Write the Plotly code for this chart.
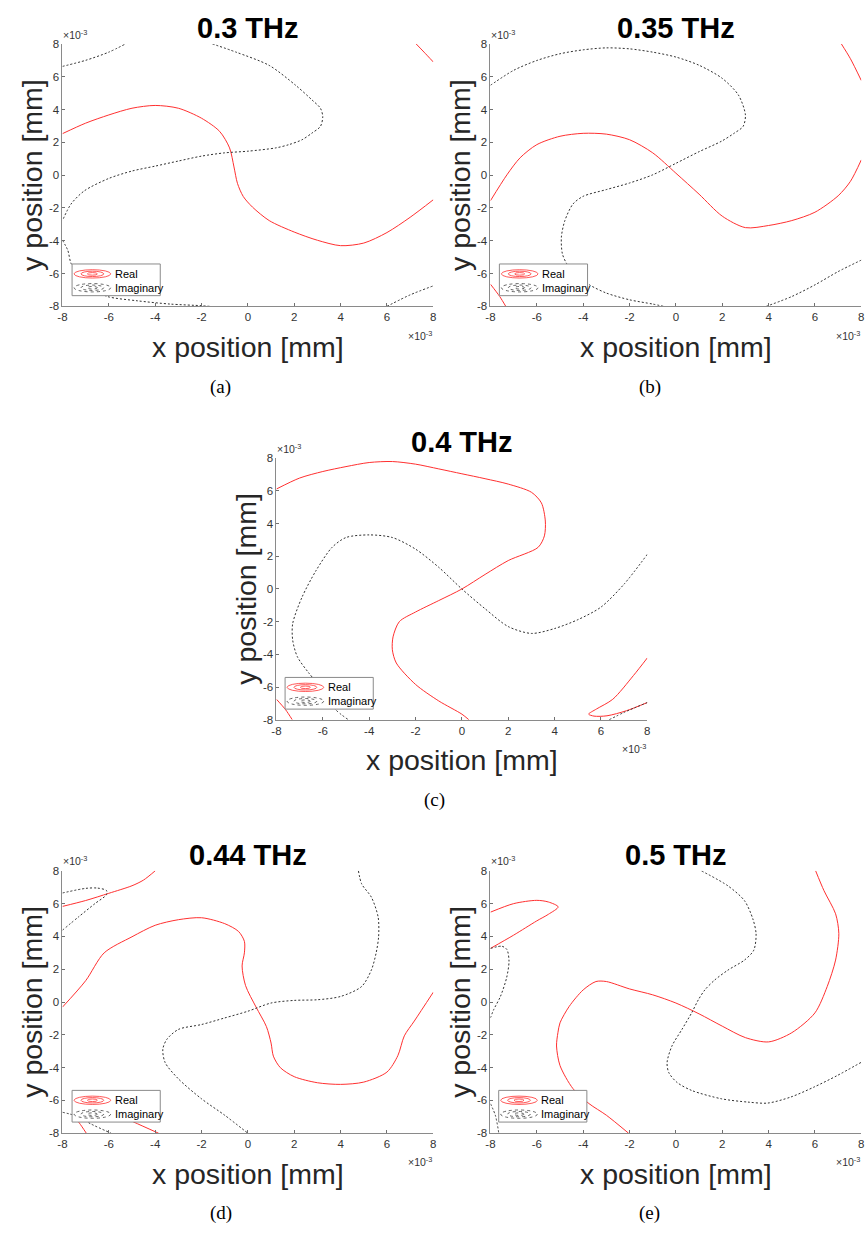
import plotly.graph_objects as go

W, H = 865, 1237

# ---------------- data (units: 1e-3 m) ----------------
tick_vals = [-8, -6, -4, -2, 0, 2, 4, 6, 8]
panel_titles = ["0.3 THz", "0.35 THz", "0.4 THz", "0.44 THz", "0.5 THz"]
panel_captions = ["(a)", "(b)", "(c)", "(d)", "(e)"]

# (a) 0.3 THz
a_real1_x = [-8, -7, -6, -5, -4, -3, -2, -1.22, -0.79, -0.6, -0.45, -0.2, 0.2, 0.92, 2, 3, 4, 5, 6, 7, 8]
a_real1_y = [2.53, 3.17, 3.67, 4.08, 4.25, 4.08, 3.47, 2.67, 1.66, 0.5, -0.5, -1.3, -1.95, -2.77, -3.47, -3.97, -4.3, -4.14, -3.5, -2.57, -1.5]
a_real2_x = [7.26, 7.6, 8]
a_real2_y = [8, 7.5, 6.9]
a_imag1_x = [-8, -7, -6, -5.28]
a_imag1_y = [6.63, 7.0, 7.5, 8]
a_imag2_x = [-1.53, -0.51, 0.92, 2.06, 2.77, 3.13, 3.23, 3.13, 2.77, 2.34, 1.77, 1.2, 0, -1, -2, -3, -4, -5, -6, -7.06, -7.63, -8]
a_imag2_y = [8, 7.5, 6.69, 5.48, 4.58, 4.08, 3.57, 2.97, 2.57, 2.16, 1.86, 1.66, 1.46, 1.36, 1.16, 0.86, 0.55, 0.25, -0.2, -0.96, -1.76, -2.77]
a_imag3_x = [-8, -7.77, -7.63, -7.2, -6.6, -6.06, -4.78, -3.36, -2, -1.65]
a_imag3_y = [-3.97, -4.58, -5.38, -6.3, -7.0, -7.4, -7.66, -7.86, -7.96, -8]
a_imag4_x = [6.0, 7.0, 8]
a_imag4_y = [-8, -7.3, -6.75]

# (b) 0.35 THz
b_real1_x = [-8, -7.29, -6.72, -6, -5, -4, -3, -2, -1, 0, 1, 2, 3, 4, 5, 6, 7, 7.53, 8]
b_real1_y = [-1.56, 0.02, 1.06, 1.86, 2.37, 2.55, 2.5, 2.16, 1.36, 0.12, -1.16, -2.5, -3.2, -3.07, -2.77, -2.26, -1.26, -0.38, 0.93]
b_real2_x = [7.14, 7.53, 8]
b_real2_y = [8, 7.1, 5.77]
b_real3_x = [-8, -7.6, -7.34]
b_real3_y = [-6.65, -7.4, -8]
b_imag1_x = [-8, -7, -6, -5, -4, -3, -2, -1, 0, 1, 2, 2.7, 3.0, 2.9, 2.53, 1.97, 1, 0, -1, -2, -3, -4, -4.44, -4.79, -4.94, -4.9, -4.72, -4.4, -3.73, -3, -2, -1, -0.53]
b_imag1_y = [5.48, 6.39, 6.99, 7.4, 7.64, 7.76, 7.7, 7.5, 7.2, 6.7, 5.9, 4.88, 3.67, 2.97, 2.57, 2.07, 1.43, 0.72, 0.02, -0.48, -0.88, -1.29, -1.76, -2.77, -3.77, -4.78, -5.38, -6.0, -6.69, -7.19, -7.6, -7.86, -8]
b_imag2_x = [3.9, 5, 6, 7, 8]
b_imag2_y = [-8, -7.4, -6.69, -5.88, -5.18]

# (c) 0.4 THz
c_real1_x = [-8, -7, -6, -5, -4, -3, -2, -1, 0, 1, 2, 3, 3.43, 3.6, 3.56, 3.29, 2, 1, 0, -1, -2, -2.7, -2.97, -3.0, -2.83, -2, -1, 0, 0.3]
c_real1_y = [6.12, 6.79, 7.19, 7.49, 7.74, 7.8, 7.64, 7.35, 7.05, 6.75, 6.42, 5.92, 5.27, 4.16, 3.25, 2.55, 1.74, 0.89, 0, -0.71, -1.41, -2.0, -2.93, -3.72, -4.53, -5.84, -6.85, -7.66, -8]
c_real2_x = [-8, -7.6, -7.32]
c_real2_y = [-6.75, -7.4, -8]
c_real3_x = [8, 7.4, 6.51, 5.8, 5.47, 5.7, 6.26, 7.1, 8]
c_real3_y = [-4.22, -5.3, -6.75, -7.35, -7.66, -7.78, -7.76, -7.45, -6.95]
c_imag1_x = [8, 7, 6, 5, 4, 3, 2, 1, 0, -1, -2, -3, -4, -5, -5.6, -6.3, -6.9, -7.3, -7.3, -7.1, -6.6, -5.8, -5.47, -4.9]
c_imag1_y = [2.12, 0.3, -1.11, -1.88, -2.42, -2.72, -2.3, -1.21, 0, 1.33, 2.44, 3.15, 3.31, 3.15, 2.55, 1.11, -0.51, -2.12, -3.13, -4.14, -5.15, -6.5, -7.35, -8]
c_imag2_x = [6.36, 7, 8]
c_imag2_y = [-8, -7.55, -6.95]

# (d) 0.44 THz
d_real1_x = [-8, -7, -6.2, -5, -4, -3, -2, -1, -0.4, -0.15, -0.15, -0.25, -0.1, 0.35, 0.8, 1.0, 1.1, 1.4, 2, 3, 4, 5, 6, 6.47, 6.75, 7.18, 8]
d_real1_y = [-0.31, 1.3, 3.0, 3.98, 4.68, 5.02, 5.14, 4.78, 4.3, 3.7, 3.0, 2.2, 1.0, -0.3, -1.5, -2.5, -3.3, -4.0, -4.55, -4.92, -5.02, -4.88, -4.27, -3.27, -2.06, -1.16, 0.6]
d_real2_x = [-8, -7, -6, -5, -4.5, -4]
d_real2_y = [5.83, 6.19, 6.63, 7.09, 7.44, 8]
d_real3_x = [-7.5, -7.27, -6.97]
d_real3_y = [-7.0, -7.38, -8]
d_real4_x = [-5.5, -4.92, -3.85]
d_real4_y = [-6.95, -7.32, -8.0]
d_imag1_x = [-8, -7, -6.5, -6.1, -6.1, -6.6, -7.3, -8]
d_imag1_y = [6.65, 6.93, 6.95, 6.8, 6.55, 6.0, 5.2, 4.38]
d_imag2_x = [4.77, 4.91, 5.33, 5.62, 5.64, 5.53, 5.33, 4.91, 4, 3, 2, 1, 0, -1, -2, -3, -3.5, -3.67, -3.57, -3, -2, -1, 0]
d_imag2_y = [8, 7.2, 6.39, 5.18, 3.98, 2.97, 1.96, 0.95, 0.34, 0.14, 0.1, -0.06, -0.56, -0.97, -1.37, -1.67, -2.28, -2.88, -3.69, -4.68, -5.9, -6.9, -8]
d_imag3_x = [-8, -7.4, -6.76, -5.9]
d_imag3_y = [-6.72, -6.95, -7.44, -8.0]

# (e) 0.5 THz
e_real1_x = [-2.04, -3, -3.75, -4.44, -5, -5.15, -5.09, -5, -4.6, -4, -3.45, -3, -2, -1, 0, 1, 2, 3, 4, 5, 6, 6.53, 6.89, 7.03, 6.89, 6.39, 6.03]
e_real1_y = [-8, -6.9, -6.19, -5.28, -3.87, -2.68, -1.87, -1.27, -0.26, 0.74, 1.25, 1.25, 0.8, 0.44, -0.06, -0.72, -1.47, -2.17, -2.43, -1.87, -0.66, 0.95, 2.56, 4.18, 5.38, 6.79, 8]
e_real2_x = [-8, -7, -6, -5.5, -5.08, -5.5, -6, -7, -8]
e_real2_y = [5.48, 6.0, 6.2, 6.1, 5.8, 5.35, 4.95, 4.08, 3.27]
e_imag1_x = [1.11, 2.25, 2.96, 3.32, 3.46, 3.36, 2.96, 2.25, 1.68, 1.25, 0.97, 0.68, 0.26, -0.17, -0.38, -0.31, 0.04, 0.68, 1.97, 3.11, 3.96, 4.96, 5.95, 6.95, 7.99]
e_imag1_y = [7.99, 7.08, 6.18, 5.07, 4.16, 3.16, 2.56, 1.95, 1.35, 0.74, 0.14, -0.66, -1.67, -2.68, -3.68, -4.29, -4.89, -5.39, -5.9, -6.1, -6.16, -5.79, -5.19, -4.49, -3.68]
e_imag2_x = [-8, -7.5, -7.29, -7.2, -7.3, -7.57, -7.86, -8]
e_imag2_y = [3.27, 3.4, 3.2, 2.5, 1.5, 0.34, -0.46, -0.96]
e_imag3_x = [-8, -7.79, -7.64]
e_imag3_y = [-6.2, -6.9, -8]

real_curves = [
    [(a_real1_x, a_real1_y), (a_real2_x, a_real2_y)],
    [(b_real1_x, b_real1_y), (b_real2_x, b_real2_y), (b_real3_x, b_real3_y)],
    [(c_real1_x, c_real1_y), (c_real2_x, c_real2_y), (c_real3_x, c_real3_y)],
    [(d_real1_x, d_real1_y), (d_real2_x, d_real2_y), (d_real3_x, d_real3_y), (d_real4_x, d_real4_y)],
    [(e_real1_x, e_real1_y), (e_real2_x, e_real2_y)],
]
imag_curves = [
    [(a_imag1_x, a_imag1_y), (a_imag2_x, a_imag2_y), (a_imag3_x, a_imag3_y), (a_imag4_x, a_imag4_y)],
    [(b_imag1_x, b_imag1_y), (b_imag2_x, b_imag2_y)],
    [(c_imag1_x, c_imag1_y), (c_imag2_x, c_imag2_y)],
    [(d_imag1_x, d_imag1_y), (d_imag2_x, d_imag2_y), (d_imag3_x, d_imag3_y)],
    [(e_imag1_x, e_imag1_y), (e_imag2_x, e_imag2_y), (e_imag3_x, e_imag3_y)],
]

# ---------------- layout (pixel boxes of each axes) ----------------
boxes = [
    (58, 432.3, 38.3, 303.3),
    (490, 864.3, 38.3, 303.3),
    (274, 648.3, 456.7, 720.7),
    (58, 432.3, 873.3, 1138.3),
    (490, 864.3, 873.3, 1138.3),
]
captions_pos = [(218, 385), (651, 385), (434, 802), (218, 1219), (651, 1219)]
legend_pos = [(67.7, 260.5), (499, 260.5), (282.7, 678), (67.7, 1095), (498.3, 1095)]

REAL_C = "#ff3030"
IMAG_C = "#303030"
FONT = "Liberation Sans, Arial, sans-serif"


def px(x):
    return x / W


def py(y):
    return 1 - y / H


fig = go.Figure()
layout = dict(
    width=W, height=H, margin=dict(l=0, r=0, t=0, b=0),
    paper_bgcolor="white", plot_bgcolor="white", showlegend=False,
)
annotations = []
shapes = []

for i in range(5):
    x0, x1, y0, y1 = boxes[i]
    xa = "xaxis" if i == 0 else f"xaxis{i+1}"
    ya = "yaxis" if i == 0 else f"yaxis{i+1}"
    xr = "x" if i == 0 else f"x{i+1}"
    yr = "y" if i == 0 else f"y{i+1}"
    common = dict(
        range=[-8, 8], tickvals=tick_vals, ticktext=[str(v) for v in tick_vals],
        ticks="inside", ticklen=3, tickcolor="#707070", showline=True,
        linecolor="#8a8a8a", linewidth=1, showgrid=False, zeroline=False,
        tickfont=dict(family=FONT, size=11.5, color="#333333"), fixedrange=True,
    )
    layout[xa] = dict(common, domain=[px(x0), px(x1)], anchor=yr)
    layout[ya] = dict(common, domain=[py(y1), py(y0)], anchor=xr)

    for cx, cy in real_curves[i]:
        fig.add_trace(go.Scatter(x=cx, y=cy, mode="lines", xaxis=xr, yaxis=yr,
                                 line=dict(color=REAL_C, width=1, shape="spline", smoothing=0.8),
                                 hoverinfo="skip"))
    for cx, cy in imag_curves[i]:
        fig.add_trace(go.Scatter(x=cx, y=cy, mode="lines", xaxis=xr, yaxis=yr,
                                 line=dict(color=IMAG_C, width=1, dash="2px,2px", shape="spline", smoothing=0.8),
                                 hoverinfo="skip"))

    xc = (x0 + x1) / 2
    yc = (y0 + y1) / 2
    # title
    annotations.append(dict(xref="paper", yref="paper", x=px(xc), y=py(y0 - 16), text=f"<b>{panel_titles[i]}</b>",
                            showarrow=False, xanchor="center", yanchor="middle",
                            font=dict(family=FONT, size=29, color="black")))
    # axis labels
    annotations.append(dict(xref="paper", yref="paper", x=px(xc), y=py(y1 + 41), text="x position [mm]",
                            showarrow=False, xanchor="center", yanchor="middle",
                            font=dict(family=FONT, size=28.5, color="#262626")))
    annotations.append(dict(xref="paper", yref="paper", x=px(x0 - 31), y=py(yc), text="y position [mm]",
                            showarrow=False, xanchor="center", yanchor="middle", textangle=-90,
                            font=dict(family=FONT, size=28.5, color="#262626")))
    # exponent labels
    annotations.append(dict(xref="paper", yref="paper", x=px(x0 - 1), y=py(y0 - 10), text="×10<sup>-3</sup>",
                            showarrow=False, xanchor="left", yanchor="middle",
                            font=dict(family=FONT, size=10.5, color="#333333")))
    annotations.append(dict(xref="paper", yref="paper", x=px(x1 + 1), y=py(y1 + 29), text="×10<sup>-3</sup>",
                            showarrow=False, xanchor="right", yanchor="middle",
                            font=dict(family=FONT, size=10.5, color="#333333")))
    # caption
    cxp, cyp = captions_pos[i]
    annotations.append(dict(xref="paper", yref="paper", x=px(cxp), y=py(cyp), text=panel_captions[i],
                            showarrow=False, xanchor="center", yanchor="middle",
                            font=dict(family="Liberation Serif, Times New Roman, serif", size=19, color="black")))

    # legend box
    lx, ly = legend_pos[i]
    shapes.append(dict(type="rect", xref="paper", yref="paper", layer="above",
                       x0=px(lx), x1=px(lx + 89), y0=py(ly + 32), y1=py(ly),
                       fillcolor="white", line=dict(color="#8a8a8a", width=1)))
    for k, (cy_off, col, dash) in enumerate([(10, REAL_C, "solid"), (24, "#404040", "dot")]):
        ecx, ecy = lx + 20.5, ly + cy_off
        for rx, ry in [(18.5, 4.2), (11.5, 2.7), (5, 1.3)]:
            shapes.append(dict(type="circle", xref="paper", yref="paper", layer="above",
                               x0=px(ecx - rx), x1=px(ecx + rx), y0=py(ecy + ry), y1=py(ecy - ry),
                               line=dict(color=col, width=0.8, dash=dash)))
    annotations.append(dict(xref="paper", yref="paper", x=px(lx + 41), y=py(ly + 10), text="Real",
                            showarrow=False, xanchor="left", yanchor="middle",
                            font=dict(family=FONT, size=11, color="black")))
    annotations.append(dict(xref="paper", yref="paper", x=px(lx + 41), y=py(ly + 24), text="Imaginary",
                            showarrow=False, xanchor="left", yanchor="middle",
                            font=dict(family=FONT, size=11, color="black")))

layout["annotations"] = annotations
layout["shapes"] = shapes
fig.update_layout(**layout)
fig.write_html("out.html", config={"displayModeBar": False},
               post_script="document.body.style.margin='0';document.body.style.overflow='hidden';")
